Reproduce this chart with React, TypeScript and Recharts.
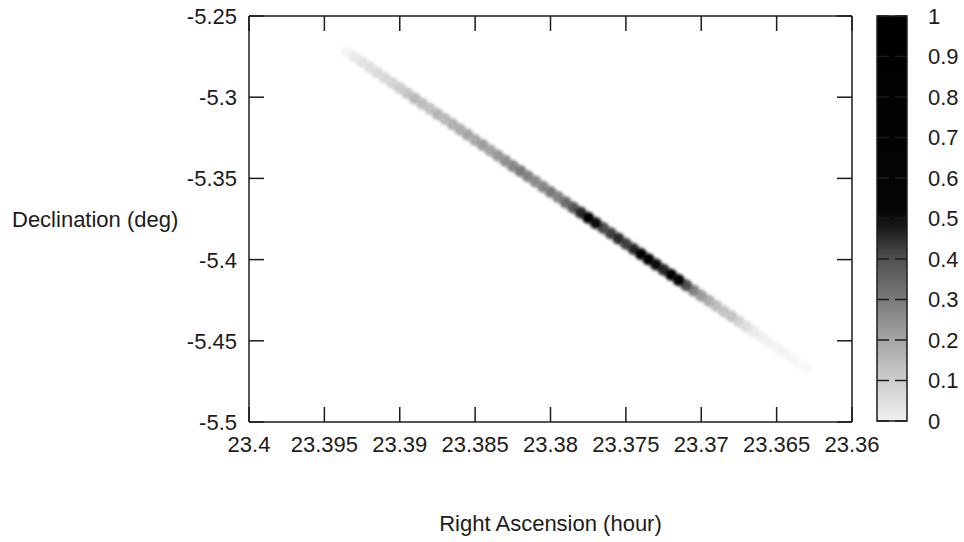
import { ScatterChart, Scatter, XAxis, YAxis, ReferenceArea } from 'recharts';

// sample positions along the track (right ascension, hours / declination, deg)
const RA = [
  23.3935, 23.393, 23.3925, 23.392, 23.3915, 23.391, 23.3905, 23.39, 23.3895, 23.389,
  23.3885, 23.388, 23.3875, 23.387, 23.3865, 23.386, 23.3855, 23.385, 23.3845, 23.384,
  23.3835, 23.383, 23.3825, 23.382, 23.3815, 23.381, 23.3805, 23.38, 23.3795, 23.379,
  23.3785, 23.378, 23.3775, 23.377, 23.3765, 23.376, 23.3755, 23.375, 23.3745, 23.374,
  23.3735, 23.373, 23.3725, 23.372, 23.3715, 23.371, 23.3705, 23.37, 23.3695, 23.369,
  23.3685, 23.368, 23.3675, 23.367, 23.3665, 23.366, 23.3655, 23.365, 23.3645, 23.364,
  23.3635, 23.363,
];
const DEC = [
  -5.272, -5.2752, -5.2784, -5.2816, -5.2848, -5.288, -5.2912, -5.2944, -5.2976, -5.3008,
  -5.304, -5.3071, -5.3103, -5.3135, -5.3167, -5.3199, -5.3231, -5.3263, -5.3295, -5.3327,
  -5.3359, -5.3391, -5.3423, -5.3455, -5.3487, -5.3519, -5.3551, -5.3583, -5.3615, -5.3647,
  -5.3679, -5.371, -5.3742, -5.3774, -5.3806, -5.3838, -5.387, -5.3902, -5.3934, -5.3966,
  -5.3998, -5.403, -5.4062, -5.4094, -5.4126, -5.4158, -5.419, -5.4222, -5.4254, -5.4286,
  -5.4318, -5.4349, -5.4381, -5.4413, -5.4445, -5.4477, -5.4509, -5.4541, -5.4573, -5.4605,
  -5.4637, -5.4669,
];
const DENSITY = [
  0.01, 0.03, 0.04, 0.05, 0.06, 0.07, 0.08, 0.1, 0.12, 0.15,
  0.14, 0.13, 0.16, 0.15, 0.17, 0.18, 0.2, 0.19, 0.22, 0.2,
  0.23, 0.25, 0.27, 0.3, 0.28, 0.26, 0.27, 0.3, 0.28, 0.33,
  0.38, 0.45, 0.55, 0.5, 0.4, 0.42, 0.45, 0.42, 0.45, 0.55,
  0.65, 0.5, 0.45, 0.6, 0.58, 0.4, 0.28, 0.22, 0.18, 0.14,
  0.12, 0.12, 0.08, 0.05, 0.03, 0.02, 0.015, 0.01, 0.01, 0.005,
  0.004, 0.003,
];

const X_TICKS = [23.4, 23.395, 23.39, 23.385, 23.38, 23.375, 23.37, 23.365, 23.36];
const Y_TICKS = [-5.5, -5.45, -5.4, -5.35, -5.3, -5.25];
const CB_TICKS = [0, 0.1, 0.2, 0.3, 0.4, 0.5, 0.6, 0.7, 0.8, 0.9, 1];

// palette: value -> grey level
const PAL_POS = [0, 0.1, 0.2, 0.3, 0.4, 0.47, 0.52, 1];
const PAL_GREY = [240, 205, 165, 122, 80, 30, 5, 0];

const INK = '#1c1c1c';
const FONT = '"Liberation Sans", Arial, Helvetica, sans-serif';
const TICK_LEN = 15;

function grey(v: number) {
  let g = PAL_GREY[PAL_GREY.length - 1];
  for (let i = 1; i < PAL_POS.length; i++) {
    if (v <= PAL_POS[i]) {
      const t = (v - PAL_POS[i - 1]) / (PAL_POS[i] - PAL_POS[i - 1]);
      g = PAL_GREY[i - 1] + t * (PAL_GREY[i] - PAL_GREY[i - 1]);
      break;
    }
  }
  const c = Math.round(Math.max(0, Math.min(255, g)));
  return `rgb(${c},${c},${c})`;
}

const points = RA.map((ra, i) => ({ ra, dec: DEC[i], v: DENSITY[i] })).sort((a, b) => a.v - b.v);
// corner anchors so the mirrored axes and the colour bar axes get a domain
const frameAnchors = [
  { ra: 23.4, dec: -5.5 },
  { ra: 23.36, dec: -5.25 },
];
const barAnchors = [
  { x: 0, y: 0 },
  { x: 1, y: 1 },
];

const textStyle = { fontFamily: FONT, fontSize: 22, fill: INK };

// near-empty cells fade towards the white background
const Blob = (p: any) => (
  <circle
    cx={p.cx}
    cy={p.cy}
    r={6}
    fill={grey(p.payload.v)}
    fillOpacity={Math.min(1, 0.4 + p.payload.v * 15)}
    filter="url(#soft)"
  />
);
const Nothing = () => <g />;

const BottomTick = ({ x, y, payload }: any) => (
  <g>
    <line x1={x} x2={x} y1={y} y2={y - TICK_LEN} stroke={INK} strokeWidth={1.5} />
    <text x={x} y={y + 30} textAnchor="middle" style={textStyle}>{payload.value}</text>
  </g>
);
const TopTick = ({ x, y }: any) => (
  <line x1={x} x2={x} y1={y} y2={y + TICK_LEN} stroke={INK} strokeWidth={1.5} />
);
const LeftTick = ({ x, y, payload }: any) => (
  <g>
    <line x1={x} x2={x + TICK_LEN} y1={y} y2={y} stroke={INK} strokeWidth={1.5} />
    <text x={x - 12} y={y} dy="0.36em" textAnchor="end" style={textStyle}>{payload.value}</text>
  </g>
);
const RightTick = ({ x, y }: any) => (
  <line x1={x} x2={x - TICK_LEN} y1={y} y2={y} stroke={INK} strokeWidth={1.5} />
);
const CbLeftTick = ({ x, y }: any) => (
  <line x1={x} x2={x + 12} y1={y} y2={y} stroke={INK} strokeWidth={1.5} />
);
const CbRightTick = ({ x, y, payload }: any) => (
  <g>
    <line x1={x} x2={x - 12} y1={y} y2={y} stroke={INK} strokeWidth={1.5} />
    <text x={x + 21} y={y} dy="0.36em" textAnchor="start" style={textStyle}>{payload.value}</text>
  </g>
);

const axisLine = { stroke: INK, strokeWidth: 1.5 };

export default function App() {
  return (
    <div style={{ position: 'absolute', left: 0, top: 0, width: 964, height: 542, background: '#fff' }}>
      <div style={{ position: 'absolute', left: 0, top: 0 }}>
        <ScatterChart width={964} height={542} margin={{ top: 15, right: 111, bottom: 0, left: 0 }}>
          <defs>
            <filter id="soft" x="-1" y="-1" width="3" height="3">
              <feGaussianBlur stdDeviation={1.8} />
            </filter>
          </defs>
          <XAxis
            xAxisId="b"
            type="number"
            dataKey="ra"
            domain={[23.36, 23.4]}
            ticks={X_TICKS}
            reversed
            allowDataOverflow
            interval={0}
            height={120}
            tickSize={0}
            tickMargin={0}
            tickLine={false}
            axisLine={axisLine}
            tick={<BottomTick />}
            label={{ value: 'Right Ascension (hour)', position: 'insideBottom', offset: 11, style: textStyle }}
          />
          <XAxis
            xAxisId="t"
            orientation="top"
            type="number"
            dataKey="ra"
            domain={[23.36, 23.4]}
            ticks={X_TICKS}
            reversed
            allowDataOverflow
            interval={0}
            height={1}
            tickSize={0}
            tickMargin={0}
            tickLine={false}
            axisLine={axisLine}
            tick={<TopTick />}
          />
          <YAxis
            yAxisId="l"
            type="number"
            dataKey="dec"
            domain={[-5.5, -5.25]}
            ticks={Y_TICKS}
            allowDataOverflow
            interval={0}
            width={249}
            tickSize={0}
            tickMargin={0}
            tickLine={false}
            axisLine={axisLine}
            tick={<LeftTick />}
            label={{ value: 'Declination (deg)', position: 'insideLeft', offset: 12, style: textStyle }}
          />
          <YAxis
            yAxisId="r"
            orientation="right"
            type="number"
            dataKey="dec"
            domain={[-5.5, -5.25]}
            ticks={Y_TICKS}
            allowDataOverflow
            interval={0}
            width={1}
            tickSize={0}
            tickMargin={0}
            tickLine={false}
            axisLine={axisLine}
            tick={<RightTick />}
          />
          <Scatter
            data={frameAnchors}
            xAxisId="t"
            yAxisId="r"
            dataKey="dec"
            shape={<Nothing />}
            isAnimationActive={false}
          />
          <Scatter
            data={points}
            xAxisId="b"
            yAxisId="l"
            dataKey="dec"
            shape={<Blob />}
            isAnimationActive={false}
          />
        </ScatterChart>
      </div>
      <div style={{ position: 'absolute', left: 0, top: 0, pointerEvents: 'none' }}>
        <ScatterChart width={964} height={542} margin={{ top: 16, right: 0, bottom: 121, left: 876 }}>
          <defs>
            <linearGradient id="cbGrad" x1="0" y1="1" x2="0" y2="0">
              {PAL_POS.map((p, i) => (
                <stop key={i} offset={p} stopColor={grey(p)} />
              ))}
            </linearGradient>
          </defs>
          <XAxis xAxisId="cb" type="number" dataKey="x" domain={[0, 1]} hide />
          <YAxis
            yAxisId="cbL"
            type="number"
            dataKey="y"
            domain={[0, 1]}
            ticks={CB_TICKS}
            interval={0}
            width={1}
            tickSize={0}
            tickMargin={0}
            tickLine={false}
            axisLine={false}
            tick={<CbLeftTick />}
          />
          <YAxis
            yAxisId="cbR"
            orientation="right"
            type="number"
            dataKey="y"
            domain={[0, 1]}
            ticks={CB_TICKS}
            interval={0}
            width={57}
            tickSize={0}
            tickMargin={0}
            tickLine={false}
            axisLine={false}
            tick={<CbRightTick />}
          />
          <ReferenceArea
            xAxisId="cb"
            yAxisId="cbL"
            y1={0}
            y2={1}
            fill="url(#cbGrad)"
            fillOpacity={1}
            stroke={INK}
            strokeWidth={1.5}
            ifOverflow="visible"
          />
          <Scatter data={barAnchors} xAxisId="cb" yAxisId="cbL" dataKey="y" shape={<Nothing />} isAnimationActive={false} />
          <Scatter data={barAnchors} xAxisId="cb" yAxisId="cbR" dataKey="y" shape={<Nothing />} isAnimationActive={false} />
        </ScatterChart>
      </div>
    </div>
  );
}
